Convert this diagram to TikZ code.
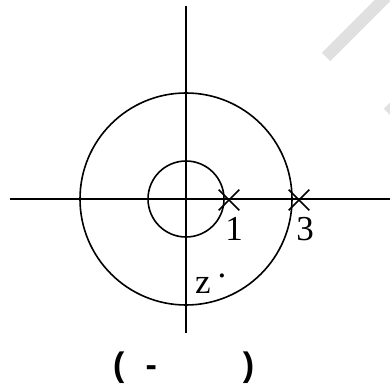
\documentclass[tikz,border=0pt]{standalone}
\usepackage{fontspec}
\setmainfont{Liberation Serif}
\setsansfont{Liberation Sans}
\usetikzlibrary{shapes.misc,positioning,calc}

\begin{document}
\begin{tikzpicture}[
  x=1pt, y=-1pt,
  axis/.style={line width=1.6pt, black},
  ring/.style={line width=1.6pt, black},
  pole/.style={cross out, draw, line width=1.6pt, minimum size=19pt, inner sep=0pt},
  num/.style={font=\fontsize{35}{35}\selectfont, inner sep=0pt, anchor=base},
  capt/.style={font=\sffamily\bfseries\fontsize{34}{34}\selectfont, inner sep=0pt, anchor=base},
  wm/.style={line width=12pt, black!12},
]
\useasboundingbox (0,0) rectangle (390,387);

% ---------- faint stripes in the corner
\begin{scope}
  \clip (0,0) rectangle (390,387);
  \draw[wm] (326,57) -- (386,-3);
  \draw[wm] (388,113) -- (420,81);
\end{scope}

% ---------- the two axes
\coordinate (O) at (186,199);
\coordinate (xl) at (10,199);
\coordinate (xr) at (390,199);
\coordinate (yt) at (186,6);
\coordinate (yb) at (186,333);
\draw[axis] (xl) -- (xr);
\draw[axis] (yt) -- (yb);

% ---------- the two circles
\draw[ring] (O) circle (38);
\draw[ring] (O) circle (106);

% ---------- poles on the real axis
\node[pole] (p1) at (229,200) {};
\node[pole] (p3) at (299,200) {};
\node[num] (n1) at (234,240) {1};
\node[num] (n3) at (305,240) {3};
\node[num, anchor=base west] (zl) at (195,293) {z\hspace{7pt}\raisebox{16pt}{.}};

% ---------- caption
\node[capt, anchor=base west] (cap) at (113,376) {(\hspace{21pt}-\hspace{86pt})};
\end{tikzpicture}
\end{document}
